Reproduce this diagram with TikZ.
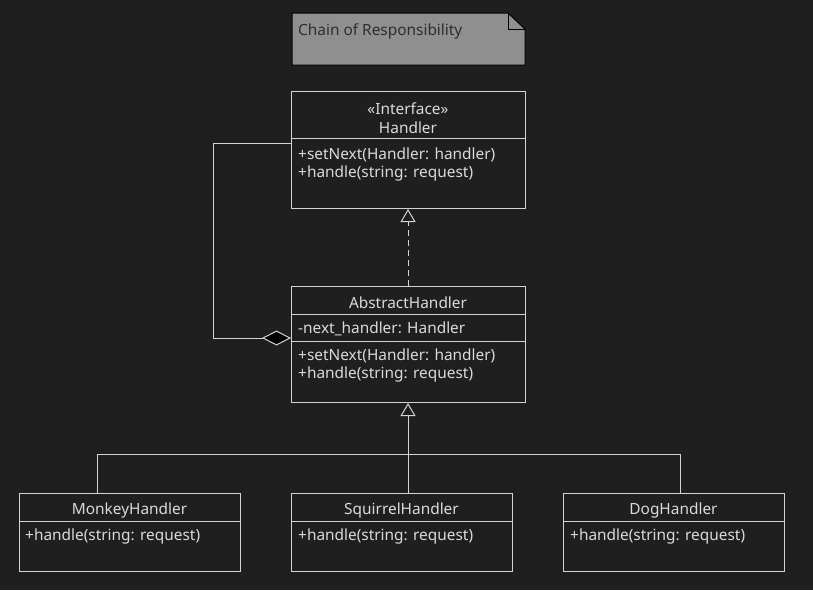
\documentclass[tikz,border=0pt]{standalone}
\usepackage{fontspec}
\setmainfont{Noto Sans}
\usetikzlibrary{arrows.meta,calc}
\definecolor{bg}{HTML}{1F1F1F}
\definecolor{ln}{HTML}{D4D4D4}
\definecolor{tx}{HTML}{DADADA}
\definecolor{notefill}{HTML}{8F8F8F}
\definecolor{notetx}{HTML}{2E2E2E}
\tikzset{
  umlbox/.style={draw=ln, line width=1pt, fill=bg, rectangle, inner sep=0pt, anchor=north west},
  title/.style={text=tx, font=\fontsize{15.4}{17}\selectfont, inner sep=0pt, anchor=center},
  member/.style={text=tx, font=\fontsize{15.4}{17}\selectfont, inner sep=0pt, anchor=west},
  conn/.style={draw=ln, line width=1pt},
  realize/.style={conn, dash pattern=on 6pt off 4pt, -{Triangle[open, length=13pt, width=15pt, line width=1pt]}},
  general/.style={conn, -{Triangle[open, length=13pt, width=15pt, line width=1pt]}},
  aggr/.style={conn, {Diamond[fill=black, length=29pt, width=15pt, line width=1pt]}-},
}
\begin{document}
\begin{tikzpicture}[x=1pt,y=-1pt]
\fill[bg] (0,0) rectangle (813,590);
\useasboundingbox (0,0) rectangle (813,590);

% Note
\draw[fill=notefill, draw=black, line width=1pt] (292,13) -- (508,13) -- (525,29) -- (525,65) -- (292,65) -- cycle;
\draw[draw=black, line width=1pt] (508,13) -- (508,29) -- (525,29);
\node[anchor=west, text=notetx, font=\fontsize{15.4}{17}\selectfont, inner sep=0pt] (notetext) at (298,31) {Chain of Responsibility};

% Handler
\node[umlbox, minimum width=234pt, minimum height=117pt] (handler) at (291,91) {};
\draw[conn] (291,138) -- (525,138);
\node[title] (handlerst) at (408,108.5) {«Interface»};
\node[title] (handlername) at (408,127.5) {Handler};
\node[member] (h1) at (298,154.5) {+setNext(Handler: handler)};
\node[member] (h2) at (298,173.5) {+handle(string: request)};

% AbstractHandler
\node[umlbox, minimum width=234pt, minimum height=116pt] (abs) at (291,286) {};
\draw[conn] (291,314) -- (525,314);
\draw[conn] (291,341) -- (525,341);
\node[title] (absname) at (408,302.5) {AbstractHandler};
\node[member] (a0) at (298,329) {-next\_handler: Handler};
\node[member] (a1) at (298,355.5) {+setNext(Handler: handler)};
\node[member] (a2) at (298,374.5) {+handle(string: request)};

% Concrete handlers
\node[umlbox, minimum width=221pt, minimum height=78pt] (monkey) at (19,493) {};
\draw[conn] (19,521) -- (240,521);
\node[title] (monkeyname) at (129.5,510.5) {MonkeyHandler};
\node[member] (m1) at (25,536.5) {+handle(string: request)};

\node[umlbox, minimum width=221pt, minimum height=78pt] (squirrel) at (291,493) {};
\draw[conn] (291,521) -- (512,521);
\node[title] (squirrelname) at (401.5,510.5) {SquirrelHandler};
\node[member] (s1) at (298,536.5) {+handle(string: request)};

\node[umlbox, minimum width=221pt, minimum height=78pt] (dog) at (563,493) {};
\draw[conn] (563,521) -- (784,521);
\node[title] (dogname) at (673.5,510.5) {DogHandler};
\node[member] (d1) at (570,536.5) {+handle(string: request)};

% Coordinates
\coordinate (absTop) at ($(abs.north west)+(117,0)$);
\coordinate (handlerBot) at ($(handler.south west)+(117,0)$);
\coordinate (absBot) at ($(abs.south west)+(117,0)$);
\coordinate (sqTop) at ($(squirrel.north west)+(117,0)$);
\coordinate (mkTop) at ($(monkey.north west)+(78,0)$);
\coordinate (dgTop) at ($(dog.north west)+(117,0)$);
\coordinate (bus) at (408,454);
\coordinate (aggLeft) at (213,338);
\coordinate (aggTop) at (213,143);

% Realization
\draw[realize] (absTop) -- (handlerBot);
% Aggregation
\draw[aggr] (abs.west |- aggLeft) -- (aggLeft) -- (aggTop) -- (handler.west |- aggTop);
% Generalization
\draw[conn] (mkTop) |- (bus) -| (dgTop);
\draw[general] (sqTop) -- (absBot);
\end{tikzpicture}
\end{document}
